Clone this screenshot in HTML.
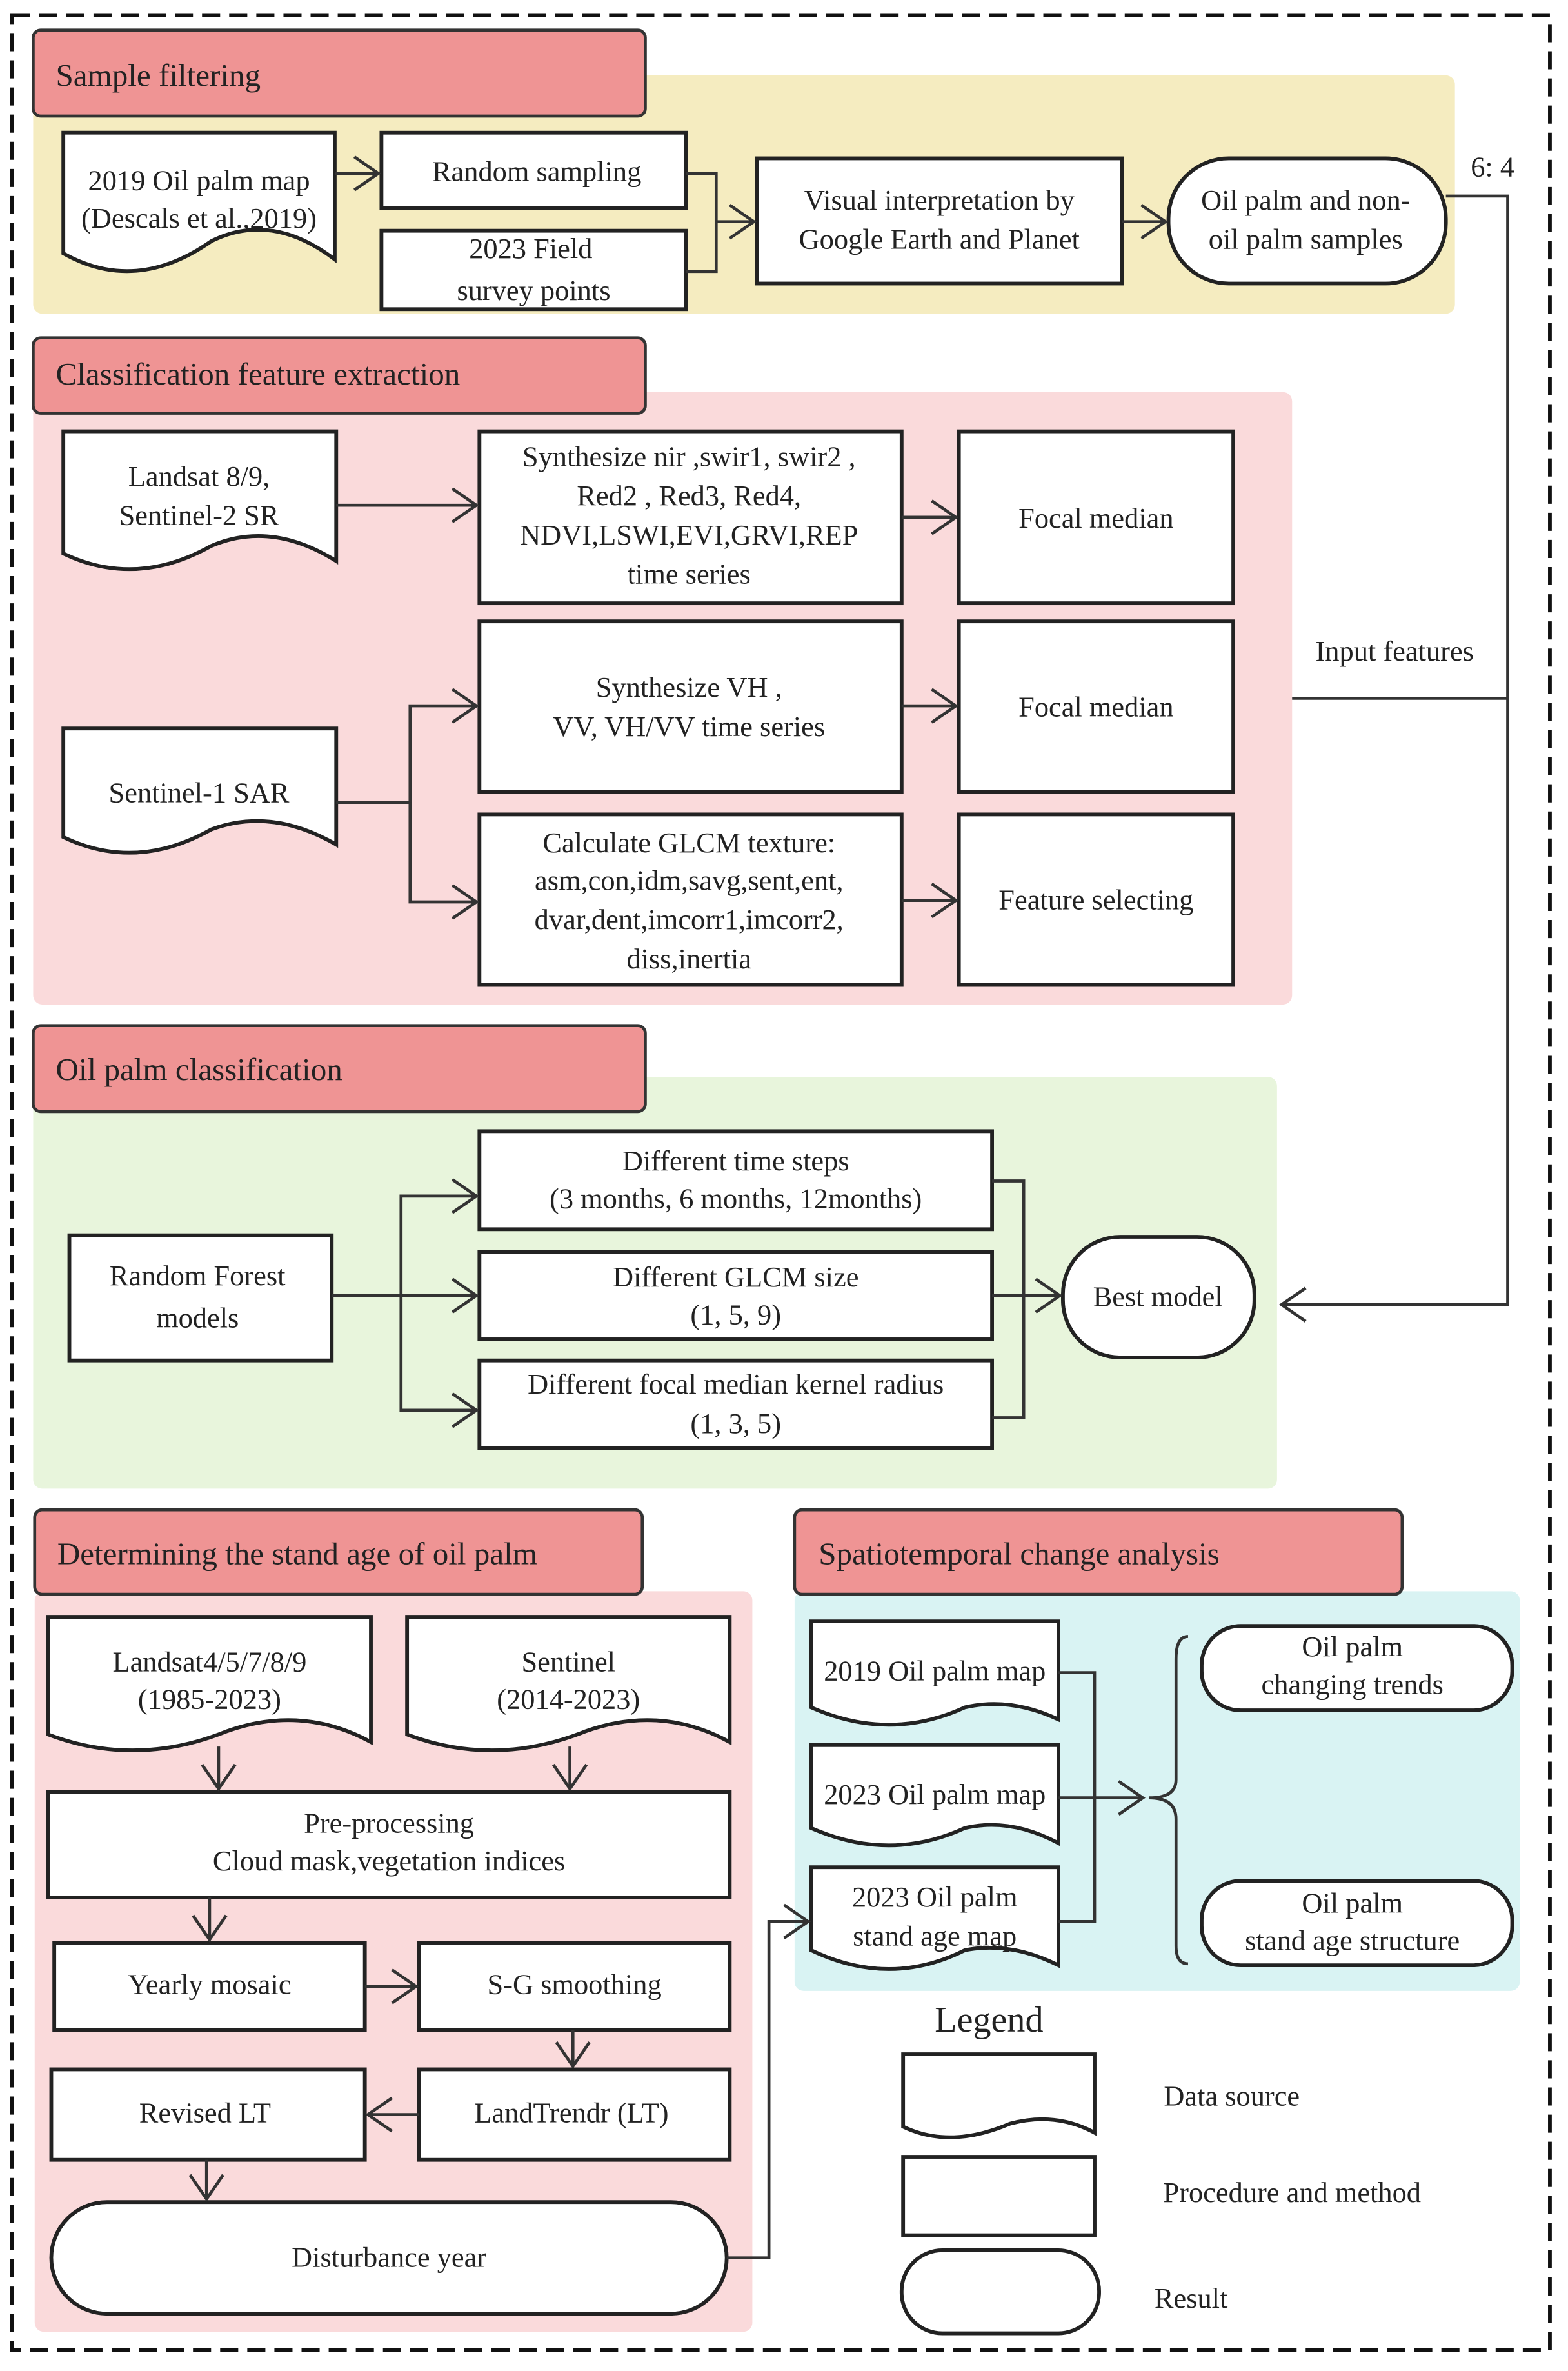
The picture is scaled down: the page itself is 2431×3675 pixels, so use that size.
<!DOCTYPE html>
<html><head><meta charset="utf-8"><style>html,body{margin:0;padding:0;background:#fff}svg{display:block}text{font-family:"Liberation Serif",serif;fill:#222}</style></head><body>
<svg width="2431" height="3675" viewBox="0 0 1040 1572" preserveAspectRatio="none" xmlns="http://www.w3.org/2000/svg">
<defs><marker id="a" markerWidth="20" markerHeight="24" refX="18" refY="12" orient="auto" markerUnits="userSpaceOnUse"><path d="M2,1 L18,12 L2,23" fill="none" stroke="#333" stroke-width="2"/></marker></defs>
<rect x="8" y="10" width="1020" height="1548" fill="none" stroke="#111" stroke-width="2.5" stroke-dasharray="12,6"/>
<rect x="22" y="50" width="943" height="158" rx="6" fill="#f5ecc0"/>
<rect x="22" y="260" width="835" height="406" rx="6" fill="#fadadb"/>
<rect x="22" y="714" width="825" height="273" rx="6" fill="#e8f5dc"/>
<rect x="23" y="1055" width="476" height="491" rx="6" fill="#fadadb"/>
<rect x="527" y="1055" width="481" height="265" rx="6" fill="#d9f3f3"/>
<g fill="#ef9494" stroke="#333" stroke-width="2">
<rect x="22" y="20" width="406" height="57" rx="5"/>
<rect x="22" y="224" width="406" height="50" rx="5"/>
<rect x="22" y="680" width="406" height="57" rx="5"/>
<rect x="23" y="1001" width="403" height="56" rx="5"/>
<rect x="527" y="1001" width="403" height="56" rx="5"/>
</g>
<g font-size="21">
<text x="37" y="57">Sample filtering</text>
<text x="37" y="255">Classification feature extraction</text>
<text x="37" y="716">Oil palm classification</text>
<text x="38" y="1037">Determining the stand age of oil palm</text>
<text x="543" y="1037">Spatiotemporal change analysis</text>
</g>
<g fill="#fff" stroke="#222" stroke-width="2.5">
<path d="M42,88 H222 V172 Q180,140 140,160 Q90,195 42,168 Z"/>
<rect x="253" y="88" width="202" height="50"/>
<rect x="253" y="153" width="202" height="52"/>
<rect x="502" y="105" width="242" height="83"/>
<rect x="775" y="105" width="184" height="83" rx="40"/>
<path d="M42,286 H223 V372 Q180,345 140,362 Q90,390 42,367 Z"/>
<rect x="318" y="286" width="280" height="114"/>
<rect x="636" y="286" width="182" height="114"/>
<rect x="318" y="412" width="280" height="113"/>
<rect x="636" y="412" width="182" height="113"/>
<path d="M42,483 H223 V560 Q180,535 140,550 Q90,578 42,555 Z"/>
<rect x="318" y="540" width="280" height="113"/>
<rect x="636" y="540" width="182" height="113"/>
<rect x="46" y="819" width="174" height="83"/>
<rect x="318" y="750" width="340" height="65"/>
<rect x="318" y="830" width="340" height="58"/>
<rect x="318" y="902" width="340" height="58"/>
<rect x="705" y="820" width="127" height="80" rx="38"/>
<path d="M32,1072 H246 V1155 Q200,1130 150,1148 Q90,1172 32,1150 Z"/>
<path d="M270,1072 H484 V1155 Q438,1130 388,1148 Q328,1172 270,1150 Z"/>
<rect x="32" y="1188" width="452" height="70"/>
<rect x="36" y="1288" width="206" height="58"/>
<rect x="278" y="1288" width="206" height="58"/>
<rect x="34" y="1372" width="208" height="60"/>
<rect x="278" y="1372" width="206" height="60"/>
<rect x="34" y="1460" width="448" height="74" rx="37"/>
<path d="M538,1075 H702 V1140 Q670,1125 640,1132 Q590,1155 538,1132 Z"/>
<path d="M538,1157 H702 V1222 Q670,1205 640,1212 Q590,1235 538,1212 Z"/>
<path d="M538,1238 H702 V1303 Q670,1287 640,1293 Q590,1318 538,1293 Z"/>
<rect x="797" y="1078" width="206" height="56" rx="26"/>
<rect x="797" y="1247" width="206" height="56" rx="26"/>
<path d="M599,1362 H726 V1414 Q700,1400 670,1408 Q630,1425 599,1410 Z"/>
<rect x="599" y="1430" width="127" height="52"/>
<rect x="598" y="1492" width="131" height="55" rx="27"/>
</g>
<g fill="none" stroke="#333" stroke-width="2">
<path d="M222,115 H251" marker-end="url(#a)"/>
<path d="M455,115 H475 V180 H455 M475,147 H500" marker-end="url(#a)"/>
<path d="M744,147 H773" marker-end="url(#a)"/>
<path d="M959,130 H1000 V865 H850" marker-end="url(#a)"/>
<path d="M857,463 H1000"/>
<path d="M223,335 H316" marker-end="url(#a)"/>
<path d="M598,343 H634" marker-end="url(#a)"/>
<path d="M598,468 H634" marker-end="url(#a)"/>
<path d="M598,597 H634" marker-end="url(#a)"/>
<path d="M223,532 H272 V468 H316" marker-end="url(#a)"/>
<path d="M272,532 V598 H316" marker-end="url(#a)"/>
<path d="M220,859 H316" marker-end="url(#a)"/>
<path d="M266,859 V793 H316" marker-end="url(#a)"/>
<path d="M266,859 V935 H316" marker-end="url(#a)"/>
<path d="M658,783 H679 V940 H658 M658,859 H703" marker-end="url(#a)"/>
<path d="M145,1158 V1186" marker-end="url(#a)"/>
<path d="M378,1158 V1186" marker-end="url(#a)"/>
<path d="M139,1258 V1286" marker-end="url(#a)"/>
<path d="M242,1317 H276" marker-end="url(#a)"/>
<path d="M380,1346 V1370" marker-end="url(#a)"/>
<path d="M278,1402 H244" marker-end="url(#a)"/>
<path d="M137,1432 V1458" marker-end="url(#a)"/>
<path d="M482,1497 H510 V1274 H536" marker-end="url(#a)"/>
<path d="M702,1109 H726 V1274 H702 M702,1192 H758" marker-end="url(#a)"/>
<path d="M788,1085 Q780,1085 780,1100 V1180 Q780,1192 762,1192 Q780,1192 780,1206 V1290 Q780,1302 788,1302"/>
</g>
<g font-size="19" text-anchor="middle">
<text x="132" y="126">2019 Oil palm map</text>
<text x="132" y="151">(Descals et al.,2019)</text>
<text x="356" y="120">Random sampling</text>
<text x="352" y="171">2023 Field</text>
<text x="354" y="199">survey points</text>
<text x="623" y="139">Visual interpretation by</text>
<text x="623" y="165">Google Earth and Planet</text>
<text x="866" y="139">Oil palm and non-</text>
<text x="866" y="165">oil palm samples</text>
<text x="990" y="117">6: 4</text>
<text x="132" y="322">Landsat 8/9,</text>
<text x="132" y="348">Sentinel-2 SR</text>
<text x="457" y="309">Synthesize nir ,swir1, swir2 ,</text>
<text x="457" y="335">Red2 , Red3, Red4,</text>
<text x="457" y="361">NDVI,LSWI,EVI,GRVI,REP</text>
<text x="457" y="387">time series</text>
<text x="727" y="350">Focal median</text>
<text x="457" y="462">Synthesize VH ,</text>
<text x="457" y="488">VV, VH/VV time series</text>
<text x="727" y="475">Focal median</text>
<text x="925" y="438">Input features</text>
<text x="132" y="532">Sentinel-1 SAR</text>
<text x="457" y="565">Calculate GLCM texture:</text>
<text x="457" y="590">asm,con,idm,savg,sent,ent,</text>
<text x="457" y="616">dvar,dent,imcorr1,imcorr2,</text>
<text x="457" y="642">diss,inertia</text>
<text x="727" y="603">Feature selecting</text>
<text x="131" y="852">Random Forest</text>
<text x="131" y="880">models</text>
<text x="488" y="776">Different time steps</text>
<text x="488" y="801">(3 months, 6 months, 12months)</text>
<text x="488" y="853">Different GLCM size</text>
<text x="488" y="878">(1, 5, 9)</text>
<text x="488" y="924">Different focal median kernel radius</text>
<text x="488" y="950">(1, 3, 5)</text>
<text x="768" y="866">Best model</text>
<text x="139" y="1108">Landsat4/5/7/8/9</text>
<text x="139" y="1133">(1985-2023)</text>
<text x="377" y="1108">Sentinel</text>
<text x="377" y="1133">(2014-2023)</text>
<text x="258" y="1215">Pre-processing</text>
<text x="258" y="1240">Cloud mask,vegetation indices</text>
<text x="139" y="1322">Yearly mosaic</text>
<text x="381" y="1322">S-G smoothing</text>
<text x="136" y="1407">Revised LT</text>
<text x="379" y="1407">LandTrendr (LT)</text>
<text x="258" y="1503">Disturbance year</text>
<text x="620" y="1114">2019 Oil palm map</text>
<text x="620" y="1196">2023 Oil palm map</text>
<text x="620" y="1264">2023 Oil palm</text>
<text x="620" y="1290">stand age map</text>
<text x="897" y="1098">Oil palm</text>
<text x="897" y="1123">changing trends</text>
<text x="897" y="1268">Oil palm</text>
<text x="897" y="1293">stand age structure</text>
<text x="656" y="1347" font-size="24">Legend</text>
<text x="817" y="1396">Data source</text>
<text x="857" y="1460">Procedure and method</text>
<text x="790" y="1530">Result</text>
</g>
</svg>
</body></html>
